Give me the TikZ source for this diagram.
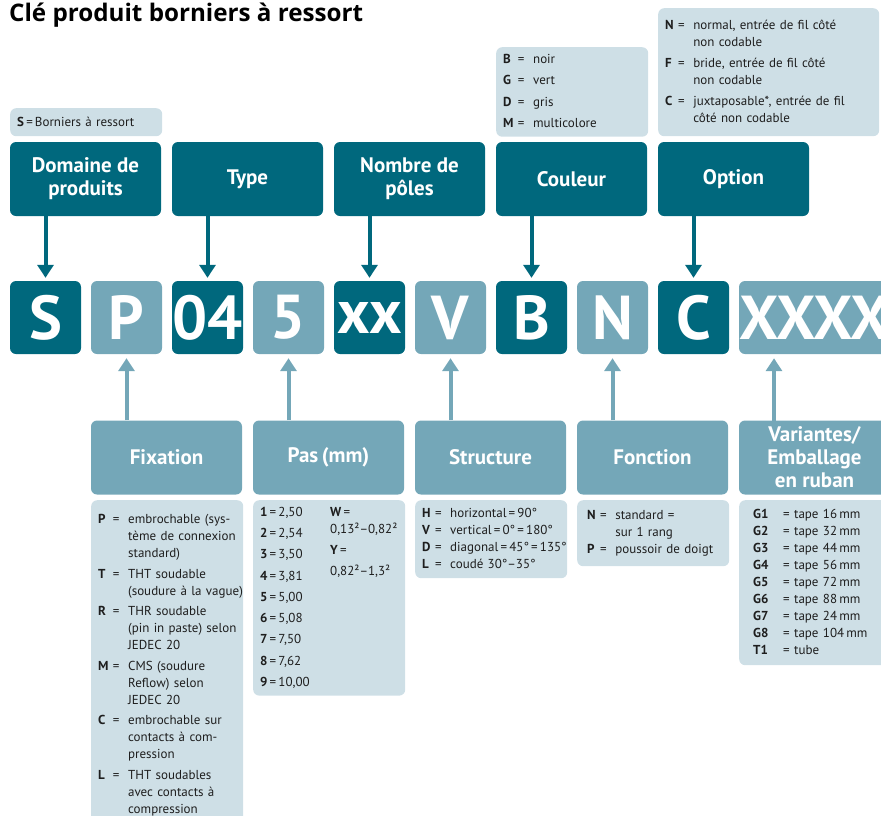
\documentclass[tikz,border=0pt]{standalone}
\usepackage{fontspec}
\setmainfont{PT Sans}
\newfontfamily\titlefamily{Open Sans}
\usetikzlibrary{arrows.meta}
\definecolor{petrol}{RGB}{0,104,125}
\definecolor{petrolmid}{RGB}{116,167,184}
\definecolor{petrollight}{RGB}{206,223,230}
\definecolor{legtext}{RGB}{30,30,30}
\newcommand{\legfont}{\fontsize{13}{17}\selectfont}
\newcommand{\headfont}{\bfseries\fontsize{21}{23}\selectfont}
\newcommand{\keyfont}{\bfseries\fontsize{62}{62}\selectfont}
\newcommand{\iseq}{\,=\,}
\tikzset{
	head/.style={rounded corners=6pt, minimum width=151pt, minimum height=74pt, inner sep=0pt, text=white, align=center, font=\headfont},
	headdark/.style={head, fill=petrol},
	headmid/.style={head, fill=petrolmid},
	keybox/.style={rounded corners=6pt, minimum width=71pt, minimum height=73pt, inner sep=0pt, text=white, font=\keyfont},
	keydark/.style={keybox, fill=petrol},
	keymid/.style={keybox, fill=petrolmid},
	legend/.style={fill=petrollight, rounded corners=6pt, anchor=north west, inner xsep=7pt, inner ysep=4pt, align=left, text=legtext, font=\legfont},
	downarrow/.style={petrol, line width=4pt, -{Triangle[width=16pt,length=13pt]}},
	uparrow/.style={petrolmid, line width=4pt, -{Triangle[width=16pt,length=13pt]}}
}
\begin{document}
\begin{tikzpicture}[x=1pt, y=-1pt]
	\useasboundingbox (0,0) rectangle (881,815);
	\clip (0,0) rectangle (881,815);
	%title
	\node[anchor=base west, inner sep=0pt, font=\titlefamily\bfseries\fontsize{24.2}{28}\selectfont] (title) at (9,21) {Clé produit borniers à ressort};
	%upper legends
	\node[legend, text width=138pt, minimum height=28pt, inner ysep=5pt] (legS) at (10,108)
	{\textbf{S}\iseq Borniers à ressort};
	\node[legend, text width=138pt, minimum height=89pt] (legB) at (496,47)
	{\begin{tabular}{@{}l@{\ }l@{\ \ }l@{}}
		\textbf{B} & = & noir\\[4.5pt]
		\textbf{G} & = & vert\\[4.5pt]
		\textbf{D} & = & gris\\[4.5pt]
		\textbf{M} & = & multicolore
	\end{tabular}};
	\node[legend, text width=207pt, minimum height=128pt] (legN) at (658,8)
	{\begin{tabular}{@{}l@{\ }l@{\ \ }l@{}}
		\textbf{N} & = & normal, entrée de fil côté\\
		& & non codable\\[4pt]
		\textbf{F} & = & bride, entrée de fil côté\\
		& & non codable\\[4pt]
		\textbf{C} & = & juxtaposable*, entrée de fil\\
		& & côté non codable
	\end{tabular}};
	%headers
	\foreach \n/\t [count=\i] in {dom/{Domaine de\\produits}, typ/Type, pol/{Nombre de\\pôles}, col/Couleur, opt/Option}
	\node[headdark] (h\n) at ({85.5+162*(\i-1)},179) {\t};
	\foreach \n/\t [count=\i] in {fix/Fixation, pas/Pas\,(mm), str/Structure, fon/Fonction, var/{Variantes/\\Emballage\\en ruban}}
	\node[headmid] (b\n) at ({166.5+162*(\i-1)},457.5) {\t};
	%code letters
	\foreach \n/\t/\s [count=\i] in {S/S/keydark, P/P/keymid, 04/04/keydark, 5/5/keymid, xx/xx/keydark, V/V/keymid, B/B/keydark, N/N/keymid, C/C/keydark}
	\node[\s] (k\n) at ({45.5+81*(\i-1)},317.5) {\t};
	\node[keymid, minimum width=152pt] (kX) at (815,317.5) {XXXX};
	%arrows
	\foreach \h/\k in {dom/S, typ/04, pol/xx, col/B, opt/C}
	\draw[downarrow] (k\k.north |- h\h.south) -- ([yshift=3pt]k\k.north);
	\foreach \b/\k in {fix/P, pas/5, str/V, fon/N}
	\draw[uparrow] (k\k.south |- b\b.north) -- ([yshift=-4pt]k\k.south);
	\draw[uparrow] (774,421) coordinate (varup) -- ([yshift=-4pt]kX.south -| varup);
	%lower legends
	\node[legend, text width=138pt, minimum height=330pt] (legfix) at (91,500)
	{\begin{tabular}{@{}l@{\ }l@{\ \ }l@{}}
		\textbf{P} & = & embrochable (sys-\\
		& & tème de connexion\\
		& & standard)\\[3.5pt]
		\textbf{T} & = & THT soudable\\
		& & (soudure à la vague)\\[3.5pt]
		\textbf{R} & = & THR soudable\\
		& & (pin in paste) selon\\
		& & JEDEC 20\\[3.5pt]
		\textbf{M} & = & CMS (soudure\\
		& & Reflow) selon\\
		& & JEDEC 20\\[3.5pt]
		\textbf{C} & = & embrochable sur\\
		& & contacts à com-\\
		& & pression\\[3.5pt]
		\textbf{L} & = & THT soudables\\
		& & avec contacts à\\
		& & compression
	\end{tabular}};
	\node[legend, text width=138pt, minimum height=194pt] (legpas) at (253,500)
	{\begin{tabular}[t]{@{}p{70pt}@{}}
		\textbf{1}\iseq 2,50\\[4.3pt]
		\textbf{2}\iseq 2,54\\[4.3pt]
		\textbf{3}\iseq 3,50\\[4.3pt]
		\textbf{4}\iseq 3,81\\[4.3pt]
		\textbf{5}\iseq 5,00\\[4.3pt]
		\textbf{6}\iseq 5,08\\[4.3pt]
		\textbf{7}\iseq 7,50\\[4.3pt]
		\textbf{8}\iseq 7,62\\[4.3pt]
		\textbf{9}\iseq 10,00
	\end{tabular}\begin{tabular}[t]{@{}l@{}}
		\textbf{W}\iseq\\
		0,13²–0,82²\\[4pt]
		\textbf{Y}\iseq\\[4pt]
		0,82²–1,3²
	\end{tabular}};
	\node[legend, text width=138pt, minimum height=78pt] (legstr) at (415,500)
	{\begin{tabular}{@{}l@{\ }l@{\ \ }l@{}}
		\textbf{H} & = & horizontal\iseq 90°\\
		\textbf{V} & = & vertical\iseq 0°\iseq 180°\\
		\textbf{D} & = & diagonal\iseq 45°\iseq 135°\\
		\textbf{L} & = & coudé 30°–35°
	\end{tabular}};
	\node[legend, inner xsep=10pt, text width=132pt, minimum height=66pt] (legfon) at (577,500)
	{\begin{tabular}{@{}l@{\ }l@{\ \ }l@{}}
		\textbf{N} & = & standard =\\
		& & sur 1 rang\\
		\textbf{P} & = & poussoir de doigt
	\end{tabular}};
	\node[legend, inner xsep=14pt, text width=124pt, minimum height=165pt] (legvar) at (739,500)
	{\begin{tabular}{@{}p{30pt}@{}l@{}}
		\textbf{G1} & = tape 16\,mm\\
		\textbf{G2} & = tape 32\,mm\\
		\textbf{G3} & = tape 44\,mm\\
		\textbf{G4} & = tape 56\,mm\\
		\textbf{G5} & = tape 72\,mm\\
		\textbf{G6} & = tape 88\,mm\\
		\textbf{G7} & = tape 24\,mm\\
		\textbf{G8} & = tape 104\,mm\\
		\textbf{T1} & = tube
	\end{tabular}};
\end{tikzpicture}
\end{document}
